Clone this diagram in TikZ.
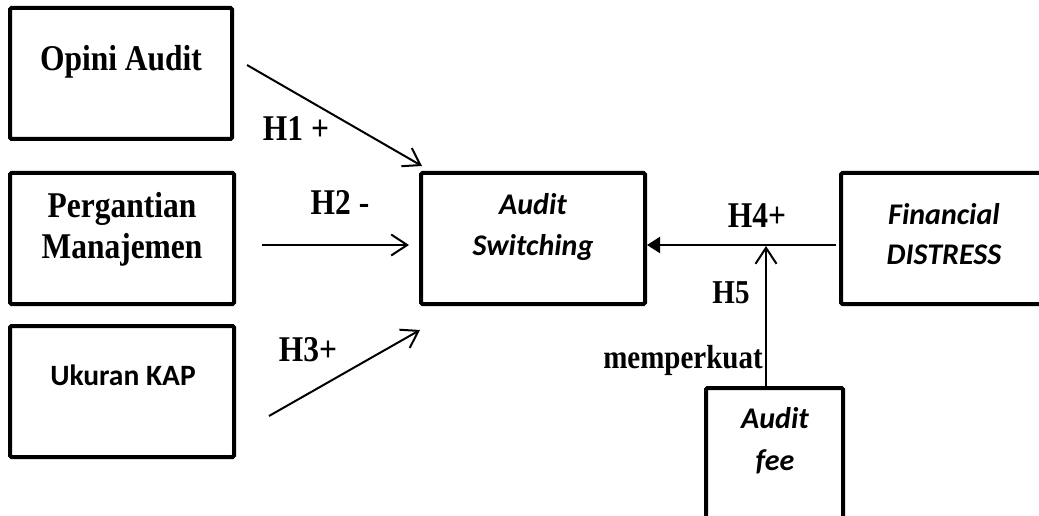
\documentclass[tikz,border=0pt]{standalone}
\usepackage{fontspec}
\usepackage{graphicx}
\setmainfont{Liberation Serif}
\newfontfamily\calfont{Carlito}
\newcommand\vst[1]{\scalebox{1}[1.15]{#1}}
\usetikzlibrary{arrows.meta}
\begin{document}
\begin{tikzpicture}[x=1pt,y=-1pt,
  box/.style={draw,line width=4pt,rounded corners=1.5pt,inner sep=0pt},
  tms/.style={font=\bfseries\fontsize{31.5}{36}\selectfont,anchor=base,inner sep=0pt},
  cal/.style={font=\calfont\bfseries\fontsize{29.5}{32}\selectfont,anchor=base,inner sep=0pt},
  cali/.style={font=\calfont\bfseries\itshape\fontsize{30}{32}\selectfont,anchor=base,inner sep=0pt},
  conn/.style={line width=2pt},
  openarr/.style={conn,-{Straight Barb[length=16pt,width=21pt,line width=2pt]}},
  fillarr/.style={conn,-{Triangle[length=13pt,width=16pt]}}]
\useasboundingbox (0,0) rectangle (1039,516);
\begin{scope}
\clip (0,0) rectangle (1039,516);
% boxes
\draw[box] (10,8) rectangle (232,139);
\coordinate (bOA) at (121,73);
\draw[box] (10,173) rectangle (234,304);
\coordinate (bPM) at (122,238);
\draw[box] (10,326) rectangle (234,457);
\coordinate (bUK) at (122,391);
\draw[box] (421,173) rectangle (645,304);
\coordinate (bAS) at (533,238);
\draw[box] (841,173) rectangle (1047,304);
\coordinate (bFD) at (944,238);
\draw[box] (706,388) rectangle (843,540);
\coordinate (bAF) at (775,460);
\end{scope}
% texts
\node[tms] (tOA) at (121,71) {\vst{Opini Audit}};
\node[tms] (tPM1) at (122,217) {\vst{Pergantian}};
\node[tms] (tPM2) at (122,258) {\vst{Manajemen}};
\node[cal] (tUK) at (123,385) {Ukuran KAP};
\node[cali] (tAS1) at (533,214) {Audit};
\node[cali] (tAS2) at (533,255) {Switching};
\node[cali] (tFD1) at (944,224) {Financial};
\node[cali] (tFD2) at (944,264) {DISTRESS};
\node[cali] (tAF1) at (775,428) {Audit};
\node[cali] (tAF2) at (775,470) {fee};
% connector endpoints
\coordinate (s1) at (247,65);  \coordinate (e1) at (422,166);
\coordinate (s2) at (262,245); \coordinate (e2) at (409,245);
\coordinate (s3) at (269,416); \coordinate (e3) at (420,330);
\coordinate (s4) at (836,245); \coordinate (e4) at (647,245);
\coordinate (s5) at (766,388); \coordinate (e5) at (766,246);
\draw[openarr] (s1) -- (e1);
\draw[openarr] (s2) -- (e2);
\draw[openarr] (s3) -- (e3);
\draw[fillarr] (s4) -- (e4);
\draw[openarr] (s5) -- (e5);
% labels
\node[tms] (l1) at (296,141) {\vst{H1 +}};
\node[tms] (l2) at (340,214) {\vst{H2 -}};
\node[tms] (l3) at (308,361) {\vst{H3+}};
\node[tms] (l4) at (757,227) {\vst{H4+}};
\node[tms,font=\bfseries\fontsize{29}{32}\selectfont] (l5) at (731,303) {\vst{H5}};
\node[tms,font=\bfseries\fontsize{29}{32}\selectfont] (l6) at (683,368) {\vst{memperkuat}};
\end{tikzpicture}
\end{document}
